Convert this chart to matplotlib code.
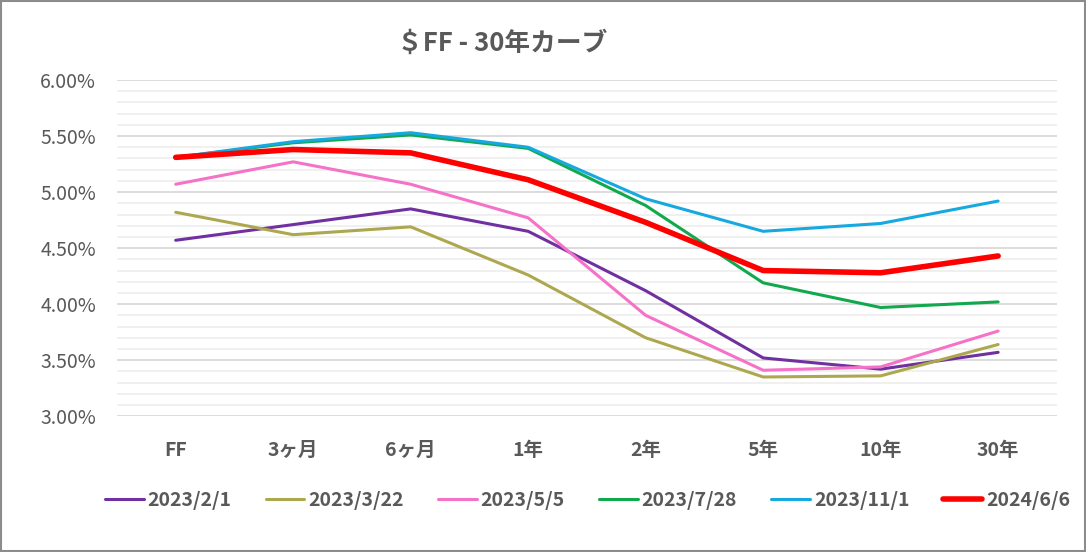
import numpy as np
import matplotlib.pyplot as plt
from matplotlib.ticker import MultipleLocator, FuncFormatter

plt.rcParams['font.family'] = ['Noto Sans CJK JP', 'DejaVu Sans']

tenors = ['FF', '3ヶ月', '6ヶ月', '1年', '2年', '5年', '10年', '30年']
dates = ['2023/2/1', '2023/3/22', '2023/5/5', '2023/7/28', '2023/11/1', '2024/6/6']

# rates in percent
r_20230201 = [4.57, 4.71, 4.85, 4.65, 4.12, 3.52, 3.42, 3.57]
r_20230322 = [4.82, 4.62, 4.69, 4.26, 3.70, 3.35, 3.36, 3.64]
r_20230505 = [5.07, 5.27, 5.07, 4.77, 3.90, 3.41, 3.44, 3.76]
r_20230728 = [5.31, 5.44, 5.51, 5.39, 4.88, 4.19, 3.97, 4.02]
r_20231101 = [5.31, 5.45, 5.53, 5.40, 4.94, 4.65, 4.72, 4.92]
r_20240606 = [5.31, 5.38, 5.35, 5.11, 4.73, 4.30, 4.28, 4.43]

series = [r_20230201, r_20230322, r_20230505, r_20230728, r_20231101, r_20240606]
colors = ['#7030A0', '#ADA84F', '#F472C8', '#12A84E', '#16A9E0', '#FF0000']
widths = [2.2, 2.2, 2.2, 2.2, 2.2, 4.0]

txt = '#595959'

fig = plt.figure(figsize=(10.86, 5.52), dpi=100)
ax = fig.add_axes([0.1077, 0.246, 0.8655, 0.609])

x = np.arange(len(tenors))
for vals, d, c, w in zip(series, dates, colors, widths):
    ax.plot(x, vals, color=c, lw=w, label=d, solid_capstyle='round', zorder=3)

ax.set_xlim(-0.5, len(tenors) - 0.5)
ax.set_ylim(3.0, 6.0)
ax.yaxis.set_major_locator(MultipleLocator(0.5))
ax.yaxis.set_minor_locator(MultipleLocator(0.1))
ax.yaxis.set_major_formatter(FuncFormatter(lambda v, p: '{:.2f}%'.format(v)))
ax.grid(which='major', axis='y', color='#D9D9D9', lw=1.3)
ax.grid(which='minor', axis='y', color='#EFEFEF', lw=1.3)
ax.set_axisbelow(True)
for s in ax.spines.values():
    s.set_visible(False)
ax.tick_params(which='both', length=0)
ax.tick_params(axis='y', labelsize=14, labelcolor=txt, pad=15)
ax.tick_params(axis='x', labelsize=14, labelcolor=txt, pad=18)
ax.set_xticks(x)
ax.set_xticklabels(tenors, fontweight='bold')

fig.text(0.462, 0.922, '＄FF - 30年カーブ', ha='center', va='center',
         fontsize=18.5, fontweight='bold', color=txt)

leg = fig.legend(loc='center', bbox_to_anchor=(0.541, 0.094), ncol=6, frameon=False,
                 prop={'size': 14, 'weight': 'bold'}, handlelength=2.0,
                 handletextpad=0.2, columnspacing=1.75)
for t in leg.get_texts():
    t.set_color(txt)

fig.patches.append(plt.Rectangle((0.001, 0.001), 0.998, 0.997, transform=fig.transFigure,
                                 fill=False, edgecolor='#8C8C8C', lw=1.5))

fig.savefig('out.png', dpi=100)
